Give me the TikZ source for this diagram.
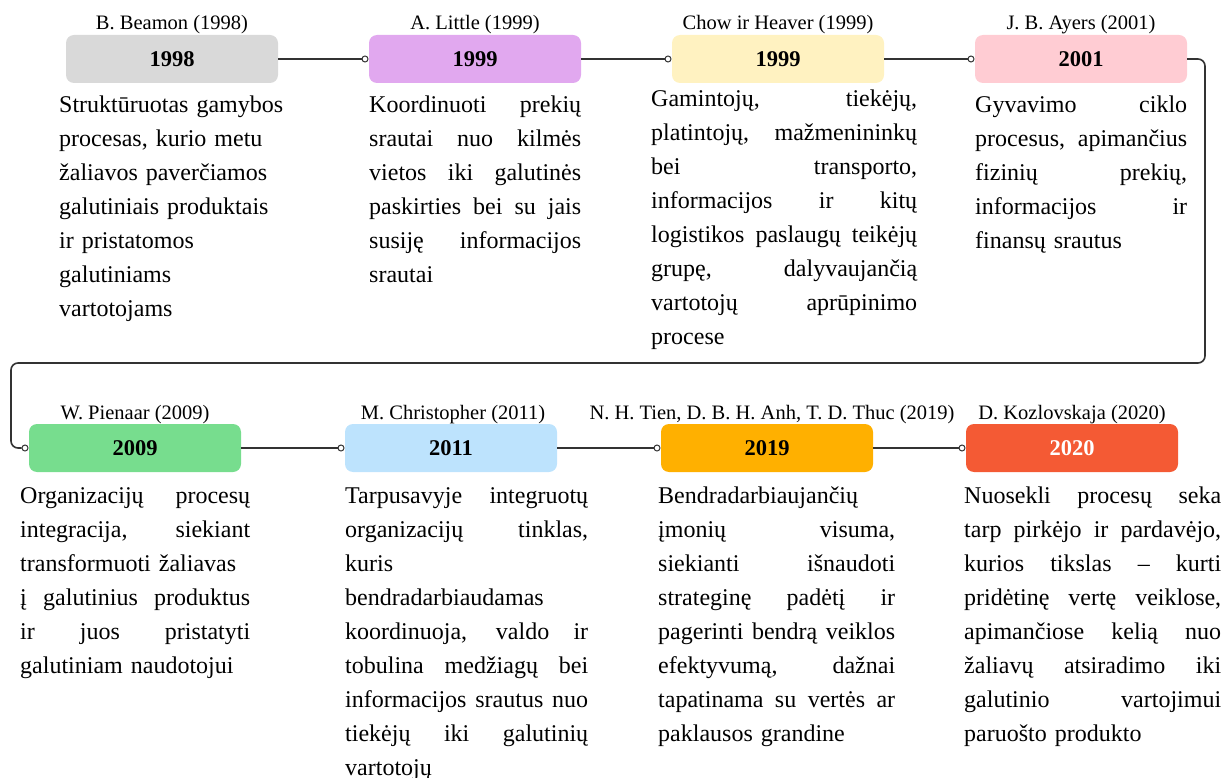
\documentclass[tikz,border=0pt]{standalone}
\usepackage{fontspec}
\setmainfont{Liberation Serif}
\newlength{\cwl}
\newcommand{\J}[1]{\leavevmode\hbox to \cwl{\spaceskip=0.25em plus 1fil\relax #1}}
\definecolor{c1}{HTML}{D9D9D9}
\definecolor{c2}{HTML}{E1A8EF}
\definecolor{c3}{HTML}{FFF2C1}
\definecolor{c4}{HTML}{FFCCD3}
\definecolor{c5}{HTML}{77DD8E}
\definecolor{c6}{HTML}{BDE3FD}
\definecolor{c7}{HTML}{FFB000}
\definecolor{c8}{HTML}{F45A34}
\definecolor{lc}{HTML}{333333}
\begin{document}
\begin{tikzpicture}[x=1pt,y=-1pt,
  box/.style={rounded corners=8pt, minimum width=212pt, minimum height=48pt, inner sep=0pt, font=\fontsize{22.5}{26}\selectfont\bfseries},
  lab/.style={font=\fontsize{20.5}{24}\selectfont, inner sep=0pt, anchor=base},
  body/.style={font=\fontsize{24}{34}\selectfont, inner sep=0pt, anchor=base west, align=left, text width=#1, execute at begin node={\global\cwl=#1\relax}},
  dot/.style={circle, draw=lc, fill=white, line width=1pt, minimum size=6pt, inner sep=0pt},
  conn/.style={draw=lc, line width=1.6pt}]
\useasboundingbox (0,0) rectangle (1224,778);

% row 1 boxes
\node[box, fill=c1] (b1) at (172,59) {1998};
\node[box, fill=c2] (b2) at (475,59) {1999};
\node[box, fill=c3] (b3) at (778,59) {1999};
\node[box, fill=c4] (b4) at (1081,59) {2001};
% row 2 boxes
\node[box, fill=c5] (b5) at (135,448) {2009};
\node[box, fill=c6] (b6) at (451,448) {2011};
\node[box, fill=c7] (b7) at (767,448) {2019};
\node[box, fill=c8, text=white] (b8) at (1072,448) {2020};

% labels
\node[lab] (l1) at (172,30) {B. Beamon (1998)};
\node[lab] (l2) at (475,30) {A. Little (1999)};
\node[lab] (l3) at (778,30) {Chow ir Heaver (1999)};
\node[lab] (l4) at (1081,30) {J. B. Ayers (2001)};
\node[lab] (l5) at (135,419) {W. Pienaar (2009)};
\node[lab] (l6) at (453,419) {M. Christopher (2011)};
\node[lab] (l7) at (772,419) {N. H. Tien, D. B. H. Anh, T. D. Thuc (2019)};
\node[lab] (l8) at (1072,419) {D. Kozlovskaja (2020)};

% dots
\node[dot] (d2) at (365,59) {};
\node[dot] (d3) at (668,59) {};
\node[dot] (d4) at (971,59) {};
\node[dot] (d5) at (25,448) {};
\node[dot] (d6) at (341,448) {};
\node[dot] (d7) at (657,448) {};
\node[dot] (d8) at (962,448) {};

% connectors
\draw[conn] (b1.east) -- (d2.west);
\draw[conn] (b2.east) -- (d3.west);
\draw[conn] (b3.east) -- (d4.west);
\coordinate (wr) at (1205,363);
\coordinate (wl) at (11,363);
\draw[conn, rounded corners=7pt] (b4.east) -| (wr) -- (wl) |- (d5.west);
\draw[conn] (b5.east) -- (d6.west);
\draw[conn] (b6.east) -- (d7.west);
\draw[conn] (b7.east) -- (d8.west);

% body texts
\node[body=230pt] (t1) at (59,113) {Struktūruotas gamybos\\procesas, kurio metu\\žaliavos paverčiamos\\galutiniais produktais\\ir pristatomos\\galutiniams\\vartotojams};
\node[body=212pt] (t2) at (369,113) {\J{Koordinuoti prekių}\\\J{srautai nuo kilmės}\\\J{vietos iki galutinės}\\\J{paskirties bei su jais}\\\J{susiję informacijos}\\srautai};
\node[body=266pt] (t3) at (651,107) {\J{Gamintojų, tiekėjų,}\\\J{platintojų, mažmenininkų}\\\J{bei transporto,}\\\J{informacijos ir kitų}\\\J{logistikos paslaugų teikėjų}\\\J{grupę, dalyvaujančią}\\\J{vartotojų aprūpinimo}\\procese};
\node[body=212pt] (t4) at (975,113) {\J{Gyvavimo ciklo}\\\J{procesus, apimančius}\\\J{fizinių prekių,}\\\J{informacijos ir}\\finansų srautus};
\node[body=230pt] (t5) at (20,503) {\J{Organizacijų procesų}\\\J{integracija, siekiant}\\transformuoti žaliavas\\\J{į galutinius produktus}\\\J{ir juos pristatyti}\\galutiniam naudotojui};
\node[body=243pt] (t6) at (345,503) {\J{Tarpusavyje integruotų}\\\J{organizacijų tinklas,}\\kuris\\bendradarbiaudamas\\\J{koordinuoja, valdo ir}\\\J{tobulina medžiagų bei}\\\J{informacijos srautus nuo}\\\J{tiekėjų iki galutinių}\\vartotojų};
\node[body=237pt] (t7) at (658,503) {Bendradarbiaujančių\\\J{įmonių visuma,}\\\J{siekianti išnaudoti}\\\J{strateginę padėtį ir}\\\J{pagerinti bendrą veiklos}\\\J{efektyvumą, dažnai}\\\J{tapatinama su vertės ar}\\paklausos grandine};
\node[body=257pt] (t8) at (964,503) {\J{Nuosekli procesų seka}\\\J{tarp pirkėjo ir pardavėjo,}\\\J{kurios tikslas – kurti}\\\J{pridėtinę vertę veiklose,}\\\J{apimančiose kelią nuo}\\\J{žaliavų atsiradimo iki}\\\J{galutinio vartojimui}\\paruošto produkto};
\end{tikzpicture}
\end{document}
